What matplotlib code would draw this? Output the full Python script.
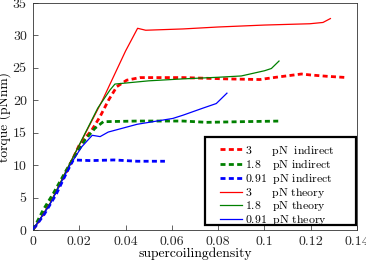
import matplotlib
matplotlib.use("Agg")
import matplotlib.pyplot as plt
from matplotlib.patches import Rectangle
from matplotlib.ticker import FixedLocator, FixedFormatter

plt.rcParams['font.family'] = ['cmr10', 'DejaVu Serif']
plt.rcParams['mathtext.fontset'] = 'cm'
plt.rcParams['axes.formatter.use_mathtext'] = True

# ---- data ----
red_theory_x = [0, 0.0074, 0.016, 0.03, 0.04, 0.0452, 0.0487, 0.0648, 0.08, 0.1, 0.1196, 0.1253, 0.1285]
red_theory_y = [0, 4.1, 10.3, 20.0, 27.6, 31.1, 30.8, 31.0, 31.3, 31.6, 31.8, 32.0, 32.6]

green_theory_x = [0, 0.0074, 0.016, 0.028, 0.0333, 0.0354, 0.05, 0.0648, 0.08, 0.09, 0.1001, 0.103, 0.1063]
green_theory_y = [0, 4.1, 10.3, 18.8, 21.6, 22.5, 23.0, 23.3, 23.55, 23.75, 24.56, 24.9, 26.05]

blue_theory_x = [0, 0.0074, 0.016, 0.021, 0.0256, 0.029, 0.0325, 0.045, 0.0604, 0.0648, 0.0735, 0.0792, 0.0838]
blue_theory_y = [0, 4.0, 10.0, 12.8, 14.6, 14.4, 15.1, 16.3, 17.2, 17.7, 18.8, 19.5, 21.1]

red_ind_x = [0, 0.005, 0.01, 0.015, 0.02, 0.0254, 0.029, 0.0326, 0.0362, 0.0405, 0.0462, 0.0648,
             0.0835, 0.098, 0.105, 0.116, 0.12, 0.127, 0.1358]
red_ind_y = [0, 2.8, 6.0, 9.3, 13.1, 15.4, 17.5, 20.0, 22.1, 23.1, 23.5, 23.5,
             23.3, 23.2, 23.55, 24.05, 23.9, 23.7, 23.5]

green_ind_x = [0, 0.0044, 0.0088, 0.015, 0.0225, 0.0268, 0.0304, 0.045, 0.0648, 0.075, 0.09, 0.1073]
green_ind_y = [0, 3.1, 5.65, 9.6, 13.9, 15.7, 16.7, 16.8, 16.8, 16.6, 16.7, 16.8]

blue_ind_x = [0, 0.001, 0.005, 0.01, 0.015, 0.0174, 0.025, 0.035, 0.045, 0.057]
blue_ind_y = [0.3, 0.5, 2.5, 5.5, 9.2, 10.8, 10.7, 10.8, 10.6, 10.6]

labels = [r"$\mathrm{3}\qquad\mathrm{pN\ \ indirect}$",
          r"$\mathrm{1.8}\quad\,\mathrm{pN\ indirect}$",
          r"$\mathrm{0.91}\enspace\,\mathrm{pN\ indirect}$",
          r"$\mathrm{3}\qquad\mathrm{pN\ theory}$",
          r"$\mathrm{1.8}\quad\,\mathrm{pN\ theory}$",
          r"$\mathrm{0.91}\enspace\,\mathrm{pN\ theory}$"]

x_ticks = [0, 0.02, 0.04, 0.06, 0.08, 0.1, 0.12, 0.14]
x_ticklabels = ["0", "0.02", "0.04", "0.06", "0.08", "0.1", "0.12", "0.14"]
y_ticks = [0, 5, 10, 15, 20, 25, 30, 35]
y_ticklabels = ["0", "5", "10", "15", "20", "25", "30", "35"]

RED = (1, 0, 0)
GREEN = (0, 0.5, 0)
BLUE = (0, 0, 1)

fig = plt.figure(figsize=(3.66, 2.63), dpi=100)
ax = fig.add_axes([33/366, 33/263, 324/366, 227/263])

dash_lw = 2.0
dash = (1.8, 1.2)
h1, = ax.plot(red_ind_x, red_ind_y, color=RED, lw=dash_lw, dashes=dash, zorder=3)
h2, = ax.plot(green_ind_x, green_ind_y, color=GREEN, lw=dash_lw, dashes=dash, zorder=3)
h3, = ax.plot(blue_ind_x, blue_ind_y, color=BLUE, lw=dash_lw, dashes=dash, zorder=3)
h4, = ax.plot(red_theory_x, red_theory_y, color=RED, lw=0.9, zorder=3)
h5, = ax.plot(green_theory_x, green_theory_y, color=GREEN, lw=0.9, zorder=3)
h6, = ax.plot(blue_theory_x, blue_theory_y, color=BLUE, lw=0.9, zorder=3)

ax.set_xlim(0, 0.14)
ax.set_ylim(0, 35)
ax.xaxis.set_major_locator(FixedLocator(x_ticks))
ax.xaxis.set_major_formatter(FixedFormatter(x_ticklabels))
ax.yaxis.set_major_locator(FixedLocator(y_ticks))
ax.yaxis.set_major_formatter(FixedFormatter(y_ticklabels))
ax.tick_params(direction='in', length=3.5, width=0.5, labelsize=10, colors='0.15')
ax.tick_params(axis='x', pad=4)
ax.tick_params(axis='y', pad=4.5)
for s in ax.spines.values():
    s.set_linewidth(0.6)
    s.set_color('0.2')

ax.set_xlabel("supercoilingdensity", fontsize=9.8, labelpad=0)
ax.set_ylabel("torque (pNnm)", fontsize=9.8, labelpad=1)

# legend frame
ax.add_patch(Rectangle((0.531, 0.022), 0.465, 0.389, transform=ax.transAxes,
                       facecolor='white', edgecolor='black', lw=1.6, zorder=4))
leg = ax.legend([h1, h2, h3, h4, h5, h6], labels, loc='upper left',
                bbox_to_anchor=(0.577, 0.385), frameon=False, fontsize=8.5,
                handlelength=1.9, handletextpad=0.2, labelspacing=-0.05,
                borderpad=0, borderaxespad=0)
leg.set_zorder(5)

fig.savefig("out.png", dpi=100)
